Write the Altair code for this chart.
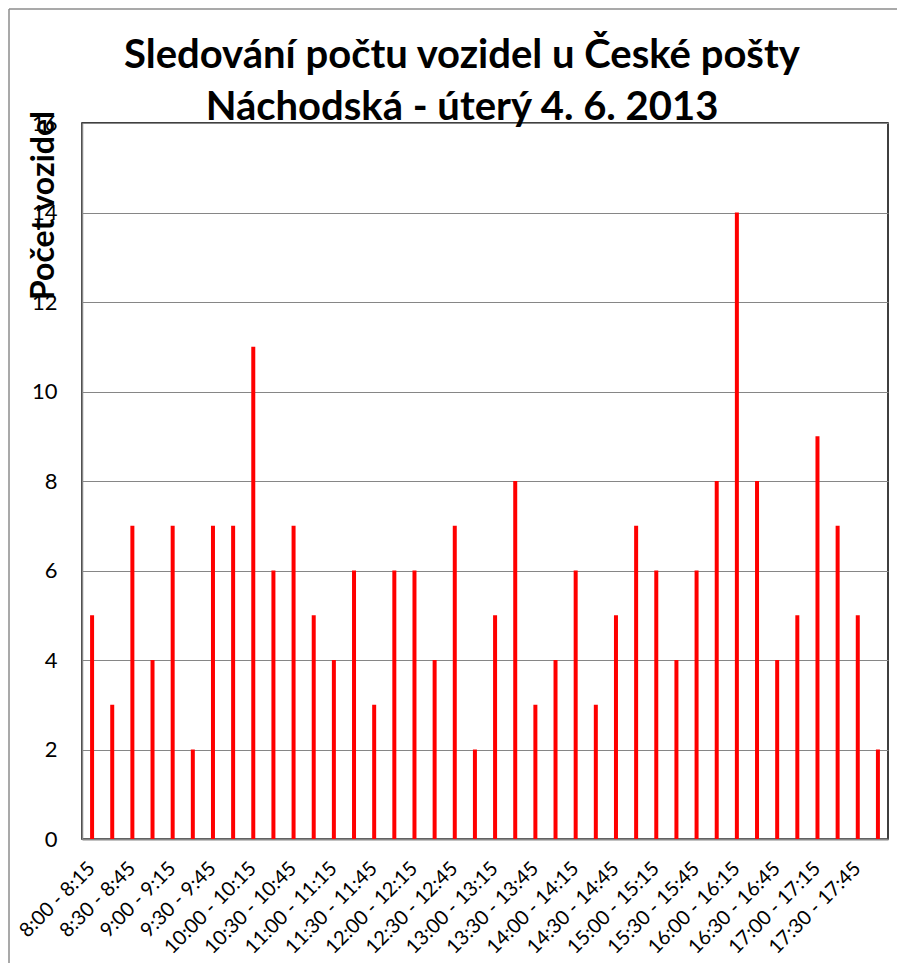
import altair as alt
import pandas as pd

intervals = [
    "8:00 - 8:15", "8:15 - 8:30", "8:30 - 8:45", "8:45 - 9:00",
    "9:00 - 9:15", "9:15 - 9:30", "9:30 - 9:45", "9:45 - 10:00",
    "10:00 - 10:15", "10:15 - 10:30", "10:30 - 10:45", "10:45 - 11:00",
    "11:00 - 11:15", "11:15 - 11:30", "11:30 - 11:45", "11:45 - 12:00",
    "12:00 - 12:15", "12:15 - 12:30", "12:30 - 12:45", "12:45 - 13:00",
    "13:00 - 13:15", "13:15 - 13:30", "13:30 - 13:45", "13:45 - 14:00",
    "14:00 - 14:15", "14:15 - 14:30", "14:30 - 14:45", "14:45 - 15:00",
    "15:00 - 15:15", "15:15 - 15:30", "15:30 - 15:45", "15:45 - 16:00",
    "16:00 - 16:15", "16:15 - 16:30", "16:30 - 16:45", "16:45 - 17:00",
    "17:00 - 17:15", "17:15 - 17:30", "17:30 - 17:45", "17:45 - 18:00",
]
vehicles = [5, 3, 7, 4, 7, 2, 7, 7, 11, 6, 7, 5, 4, 6, 3, 6, 6, 4, 7, 2,
            5, 8, 3, 4, 6, 3, 5, 7, 6, 4, 6, 8, 14, 8, 4, 5, 9, 7, 5, 2]
shown_labels = [
    "8:00 - 8:15", "8:30 - 8:45", "9:00 - 9:15", "9:30 - 9:45",
    "10:00 - 10:15", "10:30 - 10:45", "11:00 - 11:15", "11:30 - 11:45",
    "12:00 - 12:15", "12:30 - 12:45", "13:00 - 13:15", "13:30 - 13:45",
    "14:00 - 14:15", "14:30 - 14:45", "15:00 - 15:15", "15:30 - 15:45",
    "16:00 - 16:15", "16:30 - 16:45", "17:00 - 17:15", "17:30 - 17:45",
]
y_ticks = [0, 2, 4, 6, 8, 10, 12, 14, 16]

title_lines = ["Sledování počtu vozidel u České pošty", "Náchodská - úterý 4. 6. 2013"]
y_title = "Počet vozidel"

df = pd.DataFrame({"interval": intervals, "count": vehicles})
FONT = "Lato"

bars = alt.Chart(df).mark_bar(size=4, color="#FF0000").encode(
    x=alt.X("interval:N", sort=None, title=None,
            scale=alt.Scale(paddingInner=0, paddingOuter=0),
            axis=alt.Axis(values=shown_labels, labelAngle=315, labelAlign="right",
                          labelBaseline="middle", labelPadding=26, ticks=False,
                          labelFont=FONT, labelFontSize=20, labelColor="#000000",
                          domainColor="#868686", domainWidth=2, grid=False,
                          labelOverlap=False, labelBound=False)),
    y=alt.Y("count:Q", title=y_title,
            scale=alt.Scale(domain=[0, 16], nice=False),
            axis=alt.Axis(values=y_ticks, ticks=False, labelPadding=25,
                          labelFont=FONT, labelFontSize=22, labelColor="#000000",
                          domainColor="#868686", domainWidth=1.5,
                          gridColor="#868686", gridWidth=1,
                          titleFont=FONT, titleFontSize=32, titleFontWeight="bold",
                          titleColor="#000000", titleAngle=270,
                          titleX=-39, titleY=82, titleAlign="center",
                          titleBaseline="middle")),
)

one = pd.DataFrame({"a": [0]})
left_line = alt.Chart(one).mark_rule(color="#8c8c8c", strokeWidth=1.5).encode(
    x=alt.value(-73), y=alt.value(-114), y2=alt.value(870))
top_line = alt.Chart(one).mark_rule(color="#8c8c8c", strokeWidth=1.5).encode(
    x=alt.value(-73), x2=alt.value(830), y=alt.value(-114))

titles = pd.DataFrame({"line": title_lines, "row": [0, 1]})
title_text = alt.Chart(titles).mark_text(
    font=FONT, fontSize=40, fontWeight="bold", color="#000000",
    align="center", baseline="alphabetic").encode(
    text="line:N",
    x=alt.value(380),
    y=alt.Y("row:Q", scale=alt.Scale(domain=[0, 1], range=[-55, -3]), axis=None),
)

chart = alt.layer(bars, left_line, top_line, title_text).properties(
    width=806, height=716,
    autosize=alt.AutoSizeParams(type="none"),
    padding={"left": 74, "top": 115, "right": 9, "bottom": 135},
).resolve_scale(y="independent").configure_view(stroke="#000000", strokeWidth=1.5)

chart.save("out.html", embed_options={"renderer": "svg", "actions": False})
